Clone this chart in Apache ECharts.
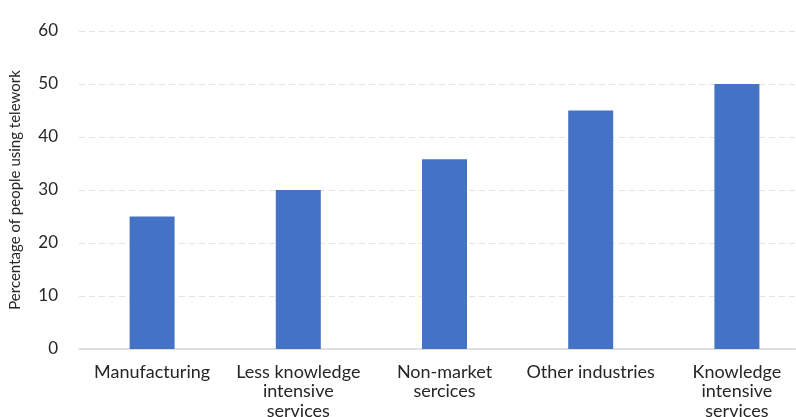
<!DOCTYPE html>
<html>
<head>
<meta charset="utf-8">
<script src="https://cdn.jsdelivr.net/npm/echarts@6/dist/echarts.min.js"></script>
<style>html,body{margin:0;padding:0;background:#fff}#c{width:796px;height:417px}</style>
</head>
<body>
<div id="c"></div>
<script>
const categories = ['Manufacturing', 'Less knowledge\nintensive\nservices', 'Non-market\nsercices', 'Other industries', 'Knowledge\nintensive\nservices'];
const values = [25, 30, 35.8, 45, 50];
const yTicks = [0, 10, 20, 30, 40, 50, 60];

const chart = echarts.init(document.getElementById('c'));
chart.setOption({
  animation: false,
  grid: { left: 79, right: -14, top: 31, bottom: 68, containLabel: false, outerBoundsMode: 'none' },
  xAxis: {
    type: 'category',
    data: categories,
    axisTick: { show: false },
    axisLine: { lineStyle: { color: '#d9d9d9', width: 1.5 } },
    axisLabel: { color: '#262626', fontFamily: 'Lato', fontSize: 18, lineHeight: 19.5, margin: 13, interval: 0 }
  },
  yAxis: {
    type: 'value',
    min: yTicks[0], max: yTicks[yTicks.length - 1], interval: 10,
    name: 'Percentage of people using telework',
    nameLocation: 'middle',
    nameGap: 56,
    nameTextStyle: { color: '#262626', fontFamily: 'Lato', fontSize: 15 },
    axisLine: { show: false },
    axisTick: { show: false },
    axisLabel: { color: '#262626', fontFamily: 'Lato', fontSize: 17, margin: 21 },
    splitLine: { lineStyle: { color: '#e3e3e3', type: [6, 4], width: 1.2 } }
  },
  series: [{
    type: 'bar',
    data: values,
    barWidth: 45,
    itemStyle: { color: '#4472C4' }
  }]
});
</script>
</body>
</html>
